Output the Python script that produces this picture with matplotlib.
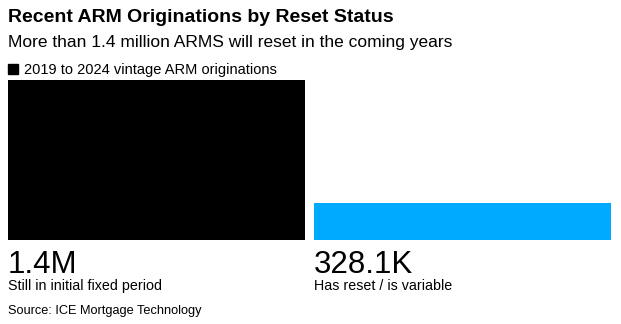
import matplotlib.pyplot as plt

# data
categories = ["Still in initial fixed period", "Has reset / is variable"]
values = [1400000, 328100]
value_labels = ["1.4M", "328.1K"]
colors = ["#000000", "#00aaff"]

title = "Recent ARM Originations by Reset Status"
subtitle = "More than 1.4 million ARMS will reset in the coming years"
legend_label = "2019 to 2024 vintage ARM originations"
source = "Source: ICE Mortgage Technology"

plt.rcParams["font.family"] = ["Liberation Sans", "DejaVu Sans"]

W, H = 621, 324
fig = plt.figure(figsize=(W / 100, H / 100), dpi=100)

# axes placed in pixel coordinates
left, right, top, bottom = 8, 611, 80, 240
ax = fig.add_axes([left / W, 1 - bottom / H, (right - left) / W, (bottom - top) / H])
w = 297 / 306
ax.bar(range(len(values)), values, width=w, color=colors)
ax.set_xlim(-w / 2, len(values) - 1 + w / 2)
ax.set_ylim(0, max(values))
ax.axis("off")

# value labels under bars
for i, (lab, cat) in enumerate(zip(value_labels, categories)):
    x = i - w / 2
    ax.annotate(lab, (x, 0), xytext=(0, -33), textcoords="offset pixels",
                fontsize=22.5, ha="left", va="baseline", color="black")
    ax.annotate(cat, (x, 0), xytext=(0, -50), textcoords="offset pixels",
                fontsize=10.3, ha="left", va="baseline", color="black")

fig.text(8 / W, 1 - 22 / H, title, fontsize=14, fontweight="bold", va="baseline")
fig.text(8 / W, 1 - 47 / H, subtitle, fontsize=12.5, va="baseline")
fig.patches.append(plt.Rectangle((8 / W, 1 - 74 / H), 10 / W, 10 / H,
                                 transform=fig.transFigure, color="black"))
fig.text(24 / W, 1 - 74 / H, legend_label, fontsize=10.5, va="baseline")
fig.text(8 / W, 1 - 314 / H, source, fontsize=9.2, va="baseline")

fig.savefig("out.png", dpi=100)
